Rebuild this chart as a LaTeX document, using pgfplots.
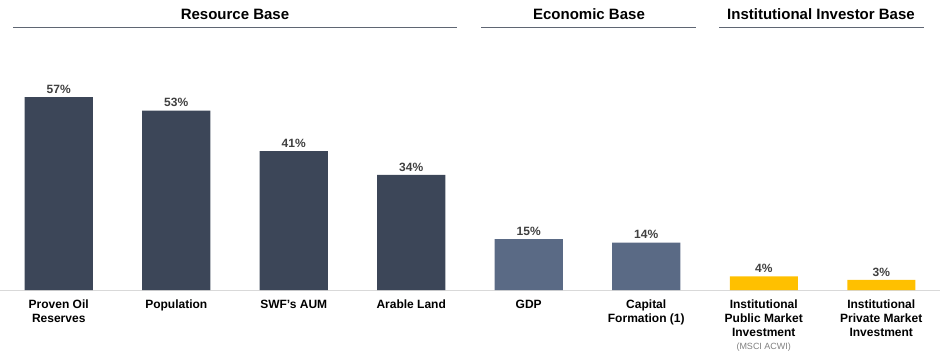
\documentclass[border=0pt]{standalone}
\usepackage{pgfplots}
\pgfplotsset{compat=1.18}
\usepackage{fontspec}
\setmainfont{Liberation Sans}
\definecolor{darkbar}{RGB}{60,70,88}
\definecolor{midbar}{RGB}{90,106,133}
\definecolor{ybar}{RGB}{255,192,0}
\definecolor{lbl}{RGB}{64,64,64}
\definecolor{hdr}{RGB}{95,102,115}
\definecolor{axl}{RGB}{217,217,217}
\begin{document}
\begin{tikzpicture}
\path[use as bounding box] (0pt,-67pt) rectangle (940pt,290pt);
\begin{axis}[
  scale only axis, width=940pt, height=290pt,
  xmin=-0.5, xmax=7.5, ymin=0, ymax=85.65,
  ybar, bar width=68pt,
  axis x line=bottom, axis y line=none,
  x axis line style={draw=axl, line width=1pt, -},
  xtick={0,...,7},
  xticklabels={{Proven Oil\\Reserves},{Population},{SWF's AUM},{Arable Land},{GDP},{Capital\\Formation (1)},{Institutional\\Public Market\\Investment\\[-1pt]{\fontsize{9}{10}\selectfont\mdseries\color{gray}(MSCI ACWI)}},{Institutional\\Private Market\\Investment}},
  xticklabel style={font=\fontsize{12}{14}\selectfont\bfseries, align=center, inner sep=0pt, yshift=-10pt, anchor=north},
  major tick length=0pt,
  ytick=\empty,
  /pgf/number format/assume math mode=true,
  nodes near coords={\pgfmathprintnumber{\pgfplotspointmeta}\%},
  nodes near coords style={font=\fontsize{12}{14}\selectfont\bfseries, color=lbl},
  clip=false,
]
\addplot[fill=darkbar, draw=none, bar shift=0pt] coordinates {(0,57)(1,53)(2,41)(3,34)};
\addplot[fill=midbar, draw=none, bar shift=0pt] coordinates {(4,15)(5,14)};
\addplot[fill=ybar, draw=none, bar shift=0pt] coordinates {(6,4)(7,3)};
\end{axis}
\node[font=\fontsize{15}{18}\selectfont\bfseries, anchor=base] at (235pt,271pt) {Resource Base};
\draw[hdr, line width=1pt] (13pt,263pt) -- (457pt,263pt);
\node[font=\fontsize{15}{18}\selectfont\bfseries, anchor=base] at (589pt,271pt) {Economic Base};
\draw[hdr, line width=1pt] (481pt,263pt) -- (696pt,263pt);
\node[font=\fontsize{15}{18}\selectfont\bfseries, anchor=base] at (821pt,271pt) {Institutional Investor Base};
\draw[hdr, line width=1pt] (719pt,263pt) -- (924pt,263pt);
\end{tikzpicture}
\end{document}
